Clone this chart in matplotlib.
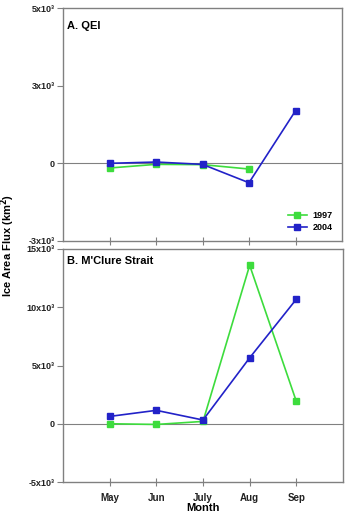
import matplotlib
matplotlib.use("Agg")
from matplotlib import pyplot as plt

plt.rcParams['font.family'] = ['Liberation Sans', 'DejaVu Sans']
plt.rcParams['font.weight'] = 'bold'

months = ['May', 'Jun', 'July', 'Aug', 'Sep']
monthPos = [1, 2, 3, 4, 5]

# A. QEI (km^2)
qei1997 = [-180, -40, -50, -220]
qei2004 = [0, 50, -40, -750, 2030]

# B. M'Clure Strait (km^2)
mcl1997 = [0, -60, 200, 13600, 1920]
mcl2004 = [630, 1150, 320, 5660, 10690]

qeiTicks = [-3000, 0, 3000, 6000]
qeiTickLabels = ['-3x10³', '0', '3x10³', '5x10³']
mclTicks = [-5000, 0, 5000, 10000, 15000]
mclTickLabels = ['-5x10³', '0', '5x10³', '10x10³', '15x10³']

green = '#3ddc3d'
blue = '#2222c8'
gray = '#808080'

W, H = 347, 514
fig = plt.figure(figsize=(W / 100, H / 100), dpi=100)
axA = fig.add_axes([63 / W, 1 - 241 / H, 279 / W, 233 / H])
axB = fig.add_axes([63 / W, 1 - 482 / H, 280 / W, 233 / H])


def styleAxis(ax, ticks, labels, ylim):
    ax.set_xlim(0, 6)
    ax.set_ylim(*ylim)
    ax.set_xticks(monthPos)
    ax.set_yticks(ticks)
    ax.set_yticklabels(labels)
    ax.axhline(0, color=gray, lw=0.8, zorder=1)
    for s in ax.spines.values():
        s.set_color(gray)
        s.set_linewidth(1.0)
    ax.tick_params(axis='y', direction='out', length=4, width=0.8, color=gray,
                   labelsize=6.5, pad=2)
    ax.tick_params(axis='x', direction='inout', length=6, width=0.8, color=gray,
                   labelsize=7, pad=5)
    for lab in ax.get_xticklabels() + ax.get_yticklabels():
        lab.set_fontweight('bold')
        lab.set_color('#222222')


styleAxis(axA, qeiTicks, qeiTickLabels, (-3000, 6000))
axA.set_xticklabels([])
axA.plot(monthPos[:4], qei1997, color=green, marker='s', ms=4.5, lw=1.2, label='1997', zorder=3)
axA.plot(monthPos, qei2004, color=blue, marker='s', ms=4.5, lw=1.2, label='2004', zorder=4)
axA.text(0.08, 5300, 'A. QEI', fontsize=8, fontweight='bold', ha='left', va='center')
leg = axA.legend(loc='lower right', frameon=False, fontsize=6.5, handlelength=2.2,
                 handletextpad=0.6, labelspacing=0.3, borderaxespad=0.6)
for t in leg.get_texts():
    t.set_fontweight('bold')

styleAxis(axB, mclTicks, mclTickLabels, (-5000, 15000))
axB.set_xticklabels(months)
axB.plot(monthPos, mcl1997, color=green, marker='s', ms=4.5, lw=1.2, zorder=3)
axB.plot(monthPos, mcl2004, color=blue, marker='s', ms=4.5, lw=1.2, zorder=4)
axB.text(0.08, 13950, "B. M'Clure Strait", fontsize=8, fontweight='bold', ha='left', va='center')

# the reference crops this label at the bottom edge; keep it just inside
fig.text(203 / W, 1 / H, 'Month', fontsize=8, fontweight='bold', ha='center', va='bottom')

fig.text(8 / W, 1 - 245 / H, 'Ice Area Flux (km$^\\mathbf{2}$)', rotation=90,
         fontsize=8, fontweight='bold', ha='center', va='center')

fig.savefig('out.png', dpi=100)
